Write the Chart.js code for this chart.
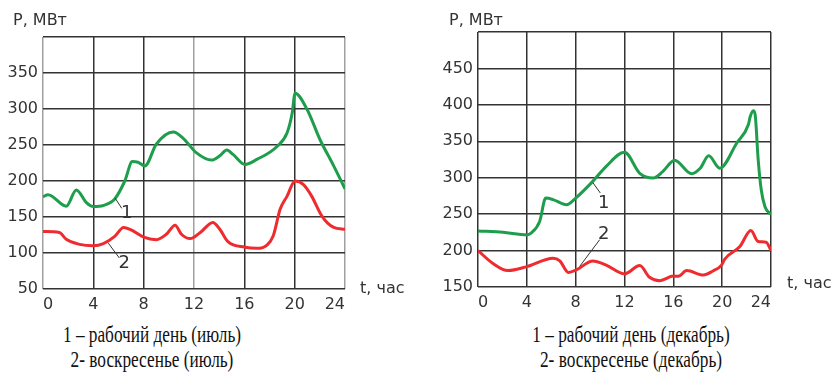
<!DOCTYPE html>
<html>
<head>
<meta charset="utf-8">
<script src="https://cdn.jsdelivr.net/npm/chart.js@4.4.1/dist/chart.umd.min.js"></script>
<style>
  html, body { margin:0; padding:0; background:#fff; }
  body { width:833px; height:390px; position:relative; overflow:hidden; }
  .wrap { position:absolute; top:0; height:320px; }
  .cap { position:absolute; width:360px; text-align:center; font-family:"Liberation Serif","Times New Roman",serif;
         font-size:23px; line-height:25px; color:#111; transform:scaleX(0.75); transform-origin:center top; white-space:nowrap; }
</style>
</head>
<body>
<div class="wrap" style="left:0;width:416px;"><canvas id="c1" width="416" height="320"></canvas></div>
<div class="wrap" style="left:416px;width:417px;"><canvas id="c2" width="417" height="320"></canvas></div>
<div class="cap" style="left:-28px;top:322px;">1 – рабочий день (июль)<br>2- воскресенье (июль)</div>
<div class="cap" style="left:451px;top:322px;">1 – рабочий день (декабрь)<br>2- воскресенье (декабрь)</div>
<script>
// ---- data (hours, MW) ----
const xTicks = [0, 4, 8, 12, 16, 20, 24];
const yTicksJuly = [50, 100, 150, 200, 250, 300, 350];
const yTicksDec = [150, 200, 250, 300, 350, 400, 450];

const hoursJulyWork = [0, 0.4, 1.85, 2.65, 3.45, 4, 4.8, 5.7, 6.5, 7.1, 7.55, 8.1, 9, 10.35, 11.1, 12.2, 13.4, 14.05, 14.6, 15.1, 16.05, 17, 18.6, 19.4, 19.8, 20.03, 21, 22, 23.1, 24];
const julyWork      = [178, 181, 165, 187.5, 170, 164.5, 166, 175, 200, 227, 226, 221, 251, 268, 260, 239, 229, 235, 243, 237, 223, 230, 248, 267, 294, 322, 299, 258, 221, 189];

const hoursJulySun = [0, 1.3, 1.85, 2.9, 4, 4.8, 5.7, 6.4, 7, 8, 9, 9.8, 10.5, 11, 11.7, 12.5, 13.5, 14.05, 14.7, 16.05, 17, 17.8, 18.3, 18.85, 19.4, 20.03, 20.7, 21.35, 22.15, 23.1, 24];
const julySun      = [130, 128.6, 119, 112, 110, 113, 123, 135.5, 132, 122, 118.5, 126, 138.7, 126, 120, 128.5, 142.4, 133, 115.7, 108, 106.5, 111, 124, 161, 179, 200, 195, 179, 151.6, 135.5, 133];

const hoursDecWork = [0, 2.05, 4, 4.35, 5.05, 5.55, 6.15, 7.25, 8, 9.4, 10.5, 12, 13.25, 14.35, 15.15, 16.1, 17.5, 18.2, 18.9, 19.8, 21.2, 22.15, 22.3, 22.55, 22.7, 22.95, 23.2, 23.5, 23.9, 24];
const decWork      = [227, 225, 221.6, 224, 240, 272, 270, 263, 272, 295, 315.6, 335, 306, 299.5, 308.7, 324, 305.5, 313, 330, 313, 347.7, 373, 384, 392, 386.7, 324.8, 283.5, 260.5, 251, 250];

const hoursDecSun = [0, 1.2, 2.45, 4, 6.15, 6.7, 7.4, 8.05, 9.4, 10.5, 12, 13.25, 14.05, 14.9, 16, 16.4, 17.1, 18.45, 19.25, 19.95, 20.2, 21.45, 22.35, 22.95, 23.6, 24];
const decSun      = [200, 182.6, 172.5, 178, 189.5, 186, 170, 173.4, 185.8, 180, 168, 179.4, 163.3, 158.7, 165, 164.7, 172.5, 166.5, 172, 180, 188, 205.5, 227.5, 212.4, 211.5, 200];

const curveLabels = ['1', '2'];

// ---- helpers ----
const toPts = (xs, ys) => xs.map((x, i) => ({ x: x, y: ys[i] }));
const GREEN = '#1e9e4c', RED = '#ee2b2f', TXT = '#333';

const overlay = {
  id: 'overlay',
  afterDatasetsDraw(chart, args, o) {
    const { ctx, chartArea: a, scales: { x, y } } = chart;
    ctx.save();
    ctx.fillStyle = TXT;
    ctx.font = '16px "DejaVu Sans"';
    ctx.textBaseline = 'alphabetic';
    ctx.textAlign = 'left';
    ctx.fillText('P, МВт', a.left + o.pDx, o.pBase);
    ctx.fillText('t, час', a.right + o.tDx, a.bottom + o.tDy);
    // curve labels with leader lines
    ctx.strokeStyle = '#333';
    ctx.lineWidth = 1;
    ctx.font = '18px "DejaVu Sans"';
    ctx.textAlign = 'center';
    ctx.textBaseline = 'middle';
    o.notes.forEach((n, i) => {
      ctx.beginPath();
      ctx.moveTo(x.getPixelForValue(n.from[0]), y.getPixelForValue(n.from[1]));
      ctx.lineTo(x.getPixelForValue(n.to[0]), y.getPixelForValue(n.to[1]));
      ctx.stroke();
      ctx.fillText(curveLabels[i], x.getPixelForValue(n.at[0]), y.getPixelForValue(n.at[1]));
    });
    ctx.restore();
  }
};

function makeChart(id, work, sun, yTicks, yMin, yMax, yWidth, xHeight, pad, gridColorFn, ov) {
  return new Chart(document.getElementById(id), {
    type: 'line',
    data: {
      datasets: [
        { data: work, borderColor: GREEN, borderWidth: 3, pointRadius: 0, cubicInterpolationMode: 'monotone', fill: false },
        { data: sun, borderColor: RED, borderWidth: 3, pointRadius: 0, cubicInterpolationMode: 'monotone', fill: false }
      ]
    },
    options: {
      responsive: false,
      animation: false,
      events: [],
      layout: { padding: pad },
      plugins: { legend: { display: false }, tooltip: { enabled: false }, overlay: ov },
      scales: {
        x: {
          type: 'linear', min: 0, max: 24,
          afterBuildTicks: s => { s.ticks = xTicks.map(v => ({ value: v })); },
          afterFit: s => { s.height = xHeight; },
          ticks: { align: 'inner', padding: 6, color: TXT, font: { family: 'DejaVu Sans', size: 16 }, maxRotation: 0 },
          grid: { color: gridColorFn, lineWidth: 1.5, drawTicks: false },
          border: { display: false }
        },
        y: {
          type: 'linear', min: yMin, max: yMax,
          afterBuildTicks: s => { s.ticks = yTicks.concat([yMax]).map(v => ({ value: v })); },
          afterFit: s => { s.width = yWidth; },
          ticks: { padding: 5, color: TXT, font: { family: 'DejaVu Sans', size: 16 },
                   callback: v => (yTicks.includes(v) ? String(v) : '') },
          grid: { color: '#333', lineWidth: 1.5, drawTicks: false },
          border: { display: false }
        }
      }
    },
    plugins: [overlay]
  });
}

makeChart('c1', toPts(hoursJulyWork, julyWork), toPts(hoursJulySun, julySun), yTicksJuly, 50, 400, 43, 31,
  { top: 37, right: 71, left: 0, bottom: 0 },
  c => (c.tick && [0, 12, 24].includes(c.tick.value)) ? '#a0a0a0' : '#333',
  { pDx: -30, pBase: 25, tDx: 15, tDy: 4,
    notes: [ { from: [5.72, 176.5], to: [6.26, 162], at: [6.65, 155.6] },
             { from: [5.19, 113.7], to: [6.07, 93], at: [6.46, 85] } ] });

makeChart('c2', toPts(hoursDecWork, decWork), toPts(hoursDecSun, decSun), yTicksDec, 150, 500, 62, 33,
  { top: 32, right: 62, left: 0, bottom: 0 },
  '#333',
  { pDx: -29, pBase: 25, tDx: 16, tDy: 1,
    notes: [ { from: [9.42, 293], to: [10.02, 279], at: [10.3, 265] },
             { from: [8.33, 178.3], to: [9.97, 215], at: [10.3, 222] } ] });
</script>
</body>
</html>
